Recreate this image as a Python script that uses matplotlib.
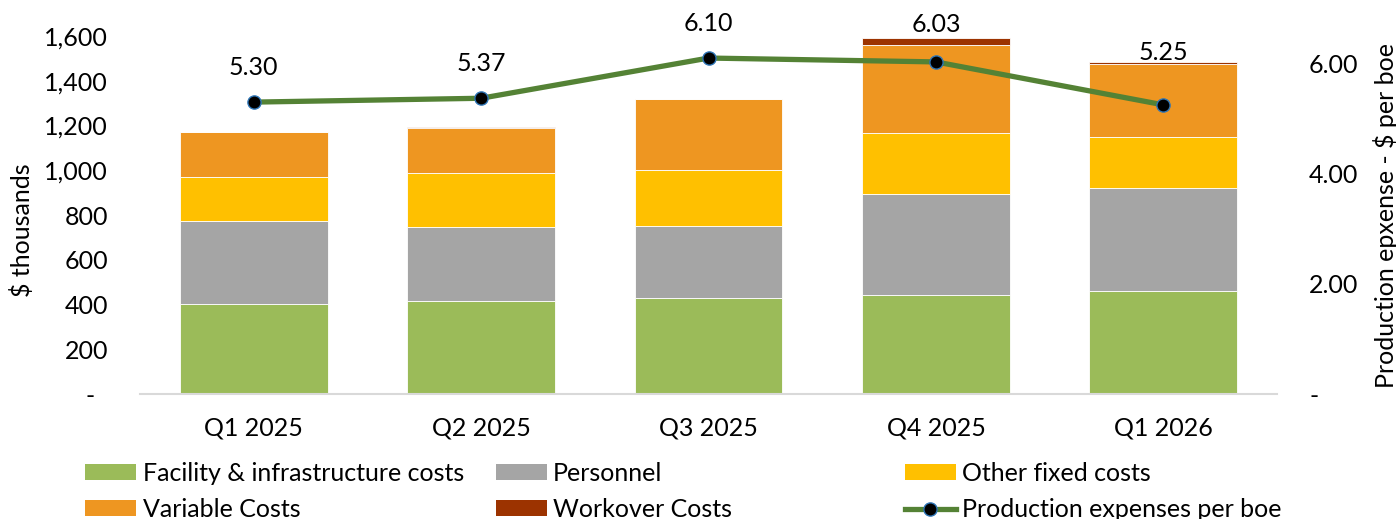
import matplotlib
matplotlib.use("Agg")
import matplotlib.pyplot as plt
import numpy as np
from matplotlib.patches import Patch
from matplotlib.lines import Line2D

plt.rcParams["font.family"] = ["Lato", "DejaVu Sans"]

quarters = ["Q1 2025", "Q2 2025", "Q3 2025", "Q4 2025", "Q1 2026"]

# $ thousands
facility = [404, 416, 430, 444, 459]
personnel = [368, 329, 320, 451, 460]
other_fixed = [197, 244, 252, 273, 230]
variable = [201, 199, 316, 393, 325]
workover = [0, 6, 0, 29, 9]

# $ per boe
per_boe = [5.30, 5.37, 6.10, 6.03, 5.25]

series = [
    ("Facility & infrastructure costs", facility, "#9BBB59"),
    ("Personnel", personnel, "#A5A5A5"),
    ("Other fixed costs", other_fixed, "#FFC000"),
    ("Variable Costs", variable, "#EE9621"),
    ("Workover Costs", workover, "#9C3300"),
]
line_color = "#548235"
fs = 18

fig = plt.figure(figsize=(13.96, 5.19), dpi=100)
ax = fig.add_axes([0.1003, 0.2408, 0.8145, 0.6898])

x = np.arange(len(quarters))
bottom = np.zeros(len(quarters))
for name, vals, col in series:
    ax.bar(x, vals, width=0.65, bottom=bottom, color=col,
           edgecolor="white", linewidth=0.6, zorder=2)
    bottom += np.array(vals)

ax.set_xlim(-0.5, len(quarters) - 0.5)
ax.set_ylim(0, 1600)
ax.set_yticks(range(0, 1601, 200))
ax.set_yticklabels(["-  "] + [f"{v:,}" for v in range(200, 1601, 200)])
ax.set_xticks(x)
ax.set_xticklabels(quarters)
ax.tick_params(axis="y", length=0, pad=23, labelsize=fs)
ax.tick_params(axis="x", length=0, pad=16, labelsize=fs)
for s in ["top", "right", "left"]:
    ax.spines[s].set_visible(False)
ax.spines["bottom"].set_color("#D9D9D9")
ax.spines["bottom"].set_linewidth(1.5)

ax2 = ax.twinx()
ax2.set_ylim(0, 6.5)
ax2.set_yticks([0, 2, 4, 6])
ax2.set_yticklabels(["-", "2.00", "4.00", "6.00"])
ax2.tick_params(axis="y", length=0, pad=23, labelsize=fs)
for s in ["top", "right", "left", "bottom"]:
    ax2.spines[s].set_visible(False)

fig.text(22 / 1396, 1 - 230 / 519, "$ thousands", rotation=90,
         ha="center", va="center", fontsize=fs)
fig.text(1385 / 1396, 1 - 215 / 519, "Production epxense - $ per boe", rotation=90,
         ha="center", va="center", fontsize=fs)

ax2.plot(x, per_boe, color=line_color, linewidth=3.8, marker="o",
         markersize=9.5, markerfacecolor="black", markeredgecolor="#2E75B6",
         markeredgewidth=1.0, zorder=5)

label_offsets = [25, 25, 25, 27, 38]
for xi, v, off in zip(x, per_boe, label_offsets):
    ax2.annotate(f"{v:.2f}", (xi, v), xytext=(0, off), textcoords="offset points",
                 ha="center", va="center", fontsize=fs, annotation_clip=False)

# legend in three columns, two rows each
cols = [
    [series[0], series[3]],
    [series[1], series[4]],
    [series[2], None],
]
col_x = [0.061, 0.355, 0.648]
for cx, entries in zip(col_x, cols):
    handles = []
    for e in entries:
        if e is None:
            handles.append(Line2D([], [], color=line_color, linewidth=3.8, marker="o",
                                  markersize=9.5, markerfacecolor="black",
                                  markeredgecolor="#2E75B6",
                                  label="Production expenses per boe"))
        else:
            handles.append(Patch(facecolor=e[2], label=e[0]))
    fig.legend(handles=handles, loc="upper left", bbox_to_anchor=(cx, 0.110),
               frameon=False, fontsize=fs, handlelength=2.05, handleheight=0.56,
               handletextpad=0.25, labelspacing=0.52, borderpad=0, borderaxespad=0)

fig.savefig("out.png", dpi=100)
